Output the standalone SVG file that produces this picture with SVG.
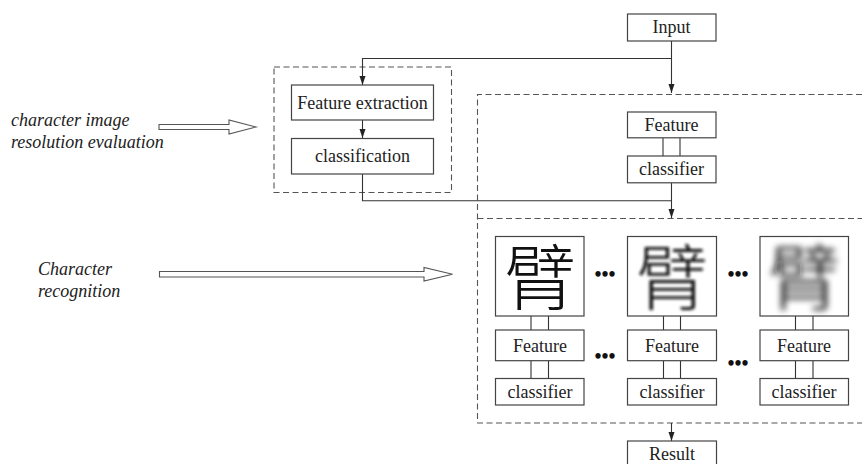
<svg xmlns="http://www.w3.org/2000/svg" width="862" height="464" viewBox="0 0 862 464">
<defs>
<marker id="arr" markerUnits="userSpaceOnUse" markerWidth="10" markerHeight="8" refX="9" refY="3" orient="auto" viewBox="0 0 10 6">
<path d="M0,0 L9,3 L0,6 Z" fill="#222"/>
</marker>
<filter id="b1" x="-20%" y="-20%" width="140%" height="140%"><feGaussianBlur stdDeviation="1.4"/></filter>
<filter id="b2" x="-20%" y="-20%" width="140%" height="140%"><feGaussianBlur stdDeviation="3.2"/></filter>
</defs>
<style>
.box{fill:#fff;stroke:#444;stroke-width:1.2}
.dash{fill:none;stroke:#555;stroke-width:1.1;stroke-dasharray:6 3.5}
.ln{fill:none;stroke:#333;stroke-width:1.1}
.t{font-family:'Liberation Serif','Tinos','DejaVu Serif','Times New Roman',serif;font-size:18px;fill:#222;text-anchor:middle}
.it{font-family:'Liberation Serif','Tinos','DejaVu Serif','Times New Roman',serif;font-size:18px;font-style:italic;fill:#222}
.dots{font-family:'Liberation Serif','DejaVu Serif',serif;font-size:20px;font-weight:bold;fill:#111;text-anchor:middle}
.hollow{fill:#fff;stroke:#555;stroke-width:1.1}
.cjk{font-family:'Noto Sans CJK SC','Noto Sans CJK JP',sans-serif;font-size:72px;font-weight:300;fill:#111;text-anchor:middle}
</style>

<g id="frames">
<rect class="dash" x="274" y="67" width="177.5" height="125.5"/>
<path class="dash" d="M862,94.5 H477.5 V423 H862"/>
<path class="dash" d="M477.5,218.5 H862"/>
</g>

<g id="labels">
<text class="it" x="11" y="125.5">character image</text>
<text class="it" x="11" y="148">resolution evaluation</text>
<polygon class="hollow" points="159,124.5 229,124.5 229,120 256,127 229,134 229,129.5 159,129.5"/>
<text class="it" x="38" y="275">Character</text>
<text class="it" x="38" y="297">recognition</text>
<polygon class="hollow" points="159.5,271.5 424,271.5 424,267.5 452.5,274.3 424,281 424,277 159.5,277"/>
</g>

<g id="connectors">
<path class="ln" d="M671.5,41 V93" marker-end="url(#arr)"/>
<path class="ln" d="M671.5,58.5 H362.5 V85" marker-end="url(#arr)"/>
<path class="ln" d="M362.5,120 V138" marker-end="url(#arr)"/>
<path class="ln" d="M362.5,174 V200.7 H671.5"/>
<path class="ln" d="M671.5,183 V218" marker-end="url(#arr)"/>
<path class="ln" d="M671.5,423 V441" marker-end="url(#arr)"/>
<path class="ln" d="M663,138 V156 M680,138 V156"/>
<path class="ln" d="M531,316 V330 M548.5,316 V330 M531,361 V378.5 M548.5,361 V378.5"/>
<path class="ln" d="M663.5,316 V330 M680.5,316 V330 M663.5,361 V378.5 M680.5,361 V378.5"/>
<path class="ln" d="M795.5,316 V330 M813,316 V330 M795.5,361 V378.5 M813,361 V378.5"/>
</g>

<g id="input"><rect class="box" x="627.5" y="14" width="88.5" height="27"/><text class="t" x="671.5" y="33">Input</text></g>
<g id="feature-extraction"><rect class="box" x="291.5" y="85" width="142" height="35"/><text class="t" x="362.5" y="109">Feature extraction</text></g>
<g id="classification"><rect class="box" x="291.5" y="138.5" width="142" height="35.5"/><text class="t" x="362.5" y="162">classification</text></g>
<g id="feature-top"><rect class="box" x="627.5" y="112" width="88.5" height="25.8"/><text class="t" x="671.5" y="130.5">Feature</text></g>
<g id="classifier-top"><rect class="box" x="627.5" y="156" width="88.5" height="26.8"/><text class="t" x="671.5" y="175">classifier</text></g>

<g id="image-1"><rect class="box" x="495.5" y="236.5" width="88.5" height="79.5"/><text class="cjk" x="540" y="304">臂</text></g>
<g id="image-2"><rect class="box" x="627.5" y="236.5" width="89" height="79.5"/><text class="cjk" x="672" y="304" filter="url(#b1)" fill="#333">臂</text></g>
<g id="image-3"><rect class="box" x="760" y="236.5" width="88.5" height="79.5"/><text class="cjk" x="804" y="304" filter="url(#b2)" fill="#222">臂</text></g>

<g id="feature-1"><rect class="box" x="495.5" y="330" width="88.5" height="30.7"/><text class="t" x="540" y="352">Feature</text></g>
<g id="feature-2"><rect class="box" x="627.5" y="330" width="89" height="30.7"/><text class="t" x="672" y="352">Feature</text></g>
<g id="feature-3"><rect class="box" x="760" y="330" width="88.5" height="30.7"/><text class="t" x="804" y="352">Feature</text></g>
<g id="classifier-1"><rect class="box" x="495.5" y="378.5" width="88.5" height="26.5"/><text class="t" x="540" y="397.5">classifier</text></g>
<g id="classifier-2"><rect class="box" x="627.5" y="378.5" width="89" height="26.5"/><text class="t" x="672" y="397.5">classifier</text></g>
<g id="classifier-3"><rect class="box" x="760" y="378.5" width="88.5" height="26.5"/><text class="t" x="804" y="397.5">classifier</text></g>

<g id="ellipses">
<text class="dots" x="605" y="281">•••</text>
<text class="dots" x="738" y="281">•••</text>
<text class="dots" x="605" y="363">•••</text>
<text class="dots" x="738" y="370">•••</text>
</g>

<g id="result"><rect class="box" x="627.5" y="441" width="89" height="30"/><text class="t" x="672" y="460">Result</text></g>
</svg>
